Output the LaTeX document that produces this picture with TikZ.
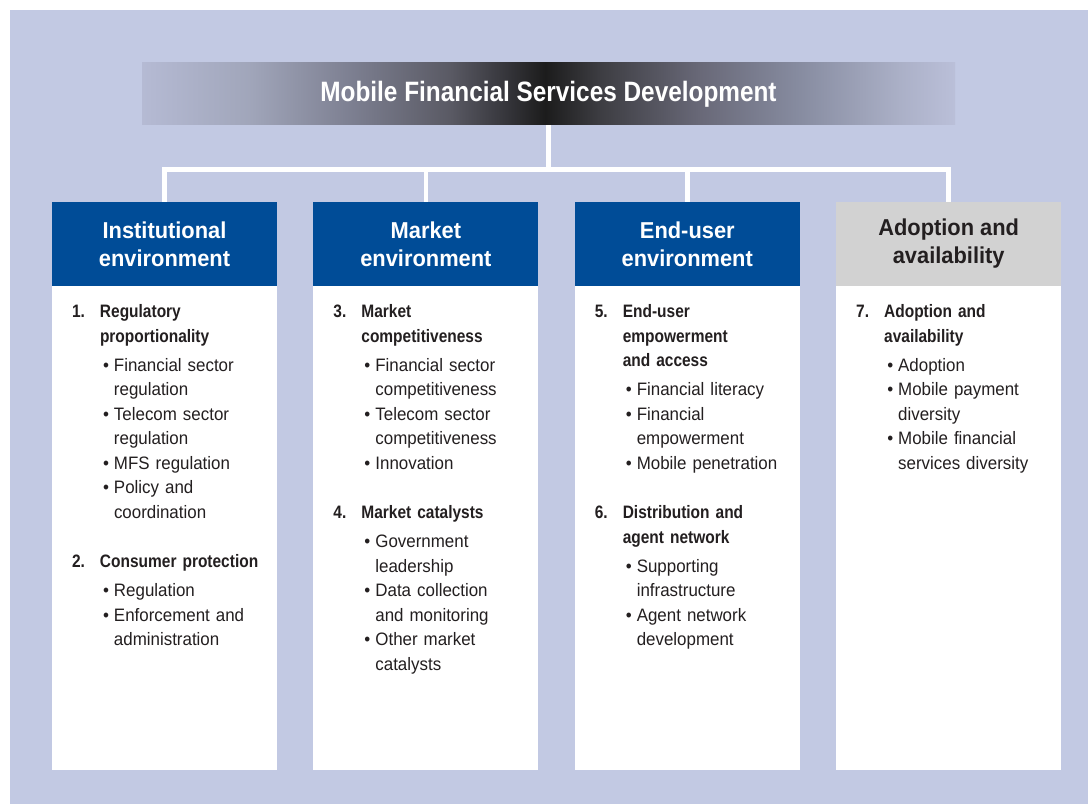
\documentclass[tikz,border=0pt]{standalone}
\usepackage{fontspec}
\usetikzlibrary{positioning}

\newfontfamily\titlefont{Liberation Sans}[FakeStretch=0.87]
\newfontfamily\headfont{Liberation Sans}[FakeStretch=0.95]
\newfontfamily\topicfont{Liberation Sans}[FakeStretch=0.86]
\newfontfamily\itemfont{Liberation Sans}[FakeStretch=0.94]

\definecolor{backdrop}{RGB}{194,201,227}
\definecolor{headblue}{RGB}{0,76,151}
\definecolor{headgray}{RGB}{210,210,210}
\definecolor{inktext}{RGB}{35,31,32}

% dark in the middle, fading out to the backdrop at both ends
\pgfdeclarehorizontalshading{titlebar}{100bp}{%
  rgb(0bp)=(0.71,0.73,0.83); rgb(25bp)=(0.71,0.73,0.83);
  rgb(31.6bp)=(0.63,0.65,0.73); rgb(37.8bp)=(0.49,0.50,0.57);
  rgb(44bp)=(0.35,0.35,0.39); rgb(47.6bp)=(0.20,0.20,0.22);
  rgb(49.8bp)=(0.11,0.11,0.11); rgb(53.2bp)=(0.24,0.24,0.26);
  rgb(59.3bp)=(0.41,0.41,0.47); rgb(65.5bp)=(0.53,0.55,0.63);
  rgb(71.6bp)=(0.67,0.69,0.78); rgb(75bp)=(0.73,0.75,0.85);
  rgb(100bp)=(0.73,0.75,0.85)}

\newcommand\topic[2]{\par{\topicfont\bfseries\leftskip=28pt\rightskip=0pt plus 1fil\parindent=0pt
  \noindent\llap{\makebox[28pt][l]{#1}}#2\par}\vspace{4.5pt}}
\newcommand\point[1]{\par{\leftskip=42pt\rightskip=0pt plus 1fil\parindent=0pt
  \noindent\llap{\textbullet\hspace{5pt}}#1\par}}
\newcommand\gap{\par\vspace{25pt}}

\begin{document}
\begin{tikzpicture}[x=1pt, y=1pt,
  bus/.style={draw=white, line width=4.5pt},
  colhead/.style={rectangle, fill=headblue, text=white, minimum width=225pt,
    minimum height=84pt, inner sep=0pt, align=center,
    font=\headfont\bfseries\fontsize{23}{28}\selectfont},
  colbody/.style={rectangle, fill=white, minimum width=225pt,
    minimum height=484pt, inner sep=0pt, below=0pt of #1},
  collist/.style={inner sep=0pt, text width=200pt, text=inktext,
    font=\itemfont\fontsize{18}{24.5}\selectfont,
    below right=7pt and 20pt of #1.north west}]
\useasboundingbox (0,0) rectangle (1088,804);
\fill[backdrop] (10,0) rectangle (1088,794);

\node[shade, shading=titlebar, minimum width=813pt, minimum height=62pt,
  text=white, font=\titlefont\bfseries\fontsize{28}{32}\selectfont]
  (title) at (548.5,710) {Mobile Financial Services Development};

% the four columns
\node[colhead] (inst) at (164.5,560) {Institutional\\environment};
\node[colhead, right=36pt of inst] (mkt) {Market\\environment};
\node[colhead, right=36pt of mkt] (user) {End-user\\environment};
\node[colhead, right=36pt of user, fill=headgray, text=inktext] (adopt) {Adoption and\\availability};

\node[colbody=inst] (instbody) {};
\node[colbody=mkt] (mktbody) {};
\node[colbody=user] (userbody) {};
\node[colbody=adopt] (adoptbody) {};

% connectors
\coordinate[below=44.5pt of title.south] (hub);
\draw[bus] (title) -- (hub);
\foreach \col in {inst,mkt,user,adopt}
  \draw[bus] (hub) -| (\col);

\node[collist=instbody] (instlist) {%
  \topic{1.}{Regulatory\\proportionality}
  \point{Financial sector\\regulation}
  \point{Telecom sector\\regulation}
  \point{MFS regulation}
  \point{Policy and\\coordination}
  \gap
  \topic{2.}{Consumer protection}
  \point{Regulation}
  \point{Enforcement and\\administration}};
\node[collist=mktbody] (mktlist) {%
  \topic{3.}{Market\\competitiveness}
  \point{Financial sector\\competitiveness}
  \point{Telecom sector\\competitiveness}
  \point{Innovation}
  \gap
  \topic{4.}{Market catalysts}
  \point{Government\\leadership}
  \point{Data collection\\and monitoring}
  \point{Other market\\catalysts}};
\node[collist=userbody] (userlist) {%
  \topic{5.}{End-user\\empowerment\\and access}
  \point{Financial literacy}
  \point{Financial\\empowerment}
  \point{Mobile penetration}
  \gap
  \topic{6.}{Distribution and\\agent network}
  \point{Supporting\\infrastructure}
  \point{Agent network\\development}};
\node[collist=adoptbody] (adoptlist) {%
  \topic{7.}{Adoption and\\availability}
  \point{Adoption}
  \point{Mobile payment\\diversity}
  \point{Mobile financial\\services diversity}};
\end{tikzpicture}
\end{document}
